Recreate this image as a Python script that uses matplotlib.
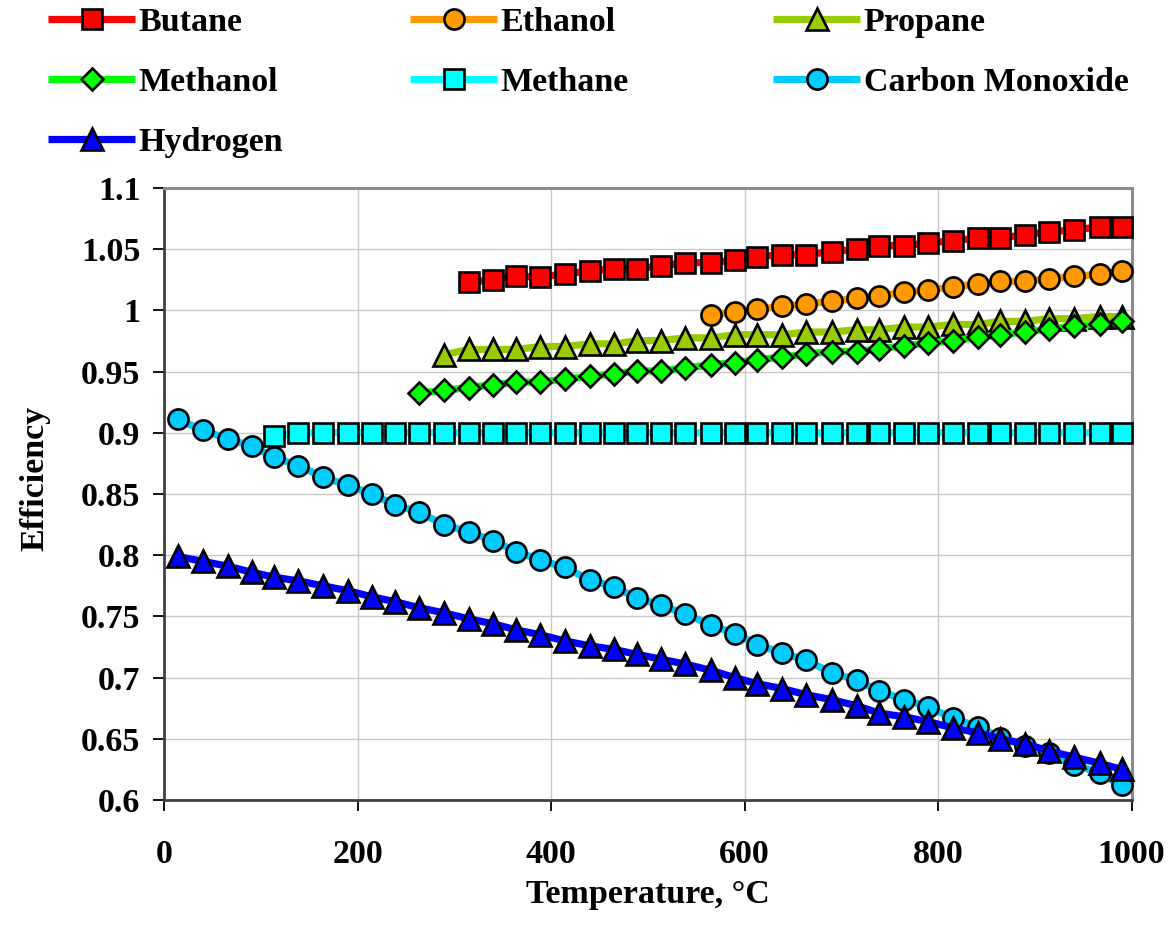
import matplotlib
matplotlib.use('Agg')
import matplotlib.pyplot as plt
from matplotlib.ticker import FuncFormatter

plt.rcParams['font.family'] = ['Liberation Serif', 'DejaVu Serif']
plt.rcParams['font.weight'] = 'bold'

# ---------------- data ----------------
temperature = [14, 40, 66, 91, 114, 139, 164, 190, 215, 239, 264, 289, 315, 340, 364,
               389, 414, 440, 465, 489, 514, 539, 565, 590, 613, 639, 664, 690, 716, 739,
               765, 790, 815, 841, 864, 890, 915, 941, 967, 990]

butane_T = temperature[12:]
butane = [1.023, 1.025, 1.028, 1.027, 1.030, 1.032, 1.034, 1.034, 1.0365, 1.039,
          1.039, 1.041, 1.044, 1.0455, 1.0455, 1.048, 1.050, 1.053, 1.053, 1.055,
          1.057, 1.059, 1.059, 1.062, 1.064, 1.066, 1.068, 1.068]

ethanol_T = temperature[22:]
ethanol = [0.9964, 0.9986, 1.0011, 1.0032, 1.0054, 1.0073, 1.0101, 1.0120, 1.0147,
           1.0169, 1.0191, 1.0215, 1.0237, 1.0237, 1.0259, 1.0277, 1.0297, 1.0324]

propane_T = temperature[11:]
propane = [0.9637, 0.9681, 0.9681, 0.9681, 0.9705, 0.9705, 0.9727, 0.9727, 0.9752,
           0.9754, 0.9776, 0.9776, 0.9801, 0.9801, 0.9801, 0.9823, 0.9823, 0.9842,
           0.9842, 0.9864, 0.9864, 0.9885, 0.9885, 0.9910, 0.9910, 0.9932, 0.9932,
           0.9950, 0.9950]

methanol_T = temperature[10:]
methanol = [0.9324, 0.9346, 0.9370, 0.9392, 0.9414, 0.9414, 0.9439, 0.9460, 0.9482,
            0.9505, 0.9505, 0.9529, 0.9556, 0.9574, 0.9597, 0.9619, 0.9643, 0.9664,
            0.9664, 0.9686, 0.9711, 0.9733, 0.9754, 0.9779, 0.9801, 0.9823, 0.9848,
            0.9870, 0.9891, 0.9910]

methane_T = temperature[4:]
methane = [0.897, 0.900, 0.900, 0.900, 0.900, 0.900, 0.900, 0.900, 0.900, 0.900,
           0.900, 0.900, 0.900, 0.900, 0.900, 0.900, 0.900, 0.900, 0.900, 0.900,
           0.900, 0.900, 0.900, 0.900, 0.900, 0.900, 0.900, 0.900, 0.900, 0.900,
           0.900, 0.900, 0.900, 0.900, 0.900, 0.900]

co_T = temperature
carbon_monoxide = [0.911, 0.902, 0.895, 0.889, 0.880, 0.873, 0.864, 0.857, 0.850, 0.841,
                   0.835, 0.825, 0.819, 0.812, 0.803, 0.796, 0.790, 0.780, 0.774, 0.765,
                   0.759, 0.752, 0.743, 0.736, 0.727, 0.720, 0.714, 0.704, 0.698, 0.689,
                   0.682, 0.676, 0.667, 0.660, 0.651, 0.644, 0.638, 0.629, 0.622, 0.612]

hydrogen_T = temperature
hydrogen = [0.799, 0.795, 0.791, 0.786, 0.782, 0.779, 0.775, 0.771, 0.766, 0.762,
            0.757, 0.753, 0.748, 0.744, 0.739, 0.735, 0.730, 0.726, 0.723, 0.719,
            0.715, 0.711, 0.706, 0.700, 0.695, 0.691, 0.686, 0.682, 0.677, 0.671,
            0.668, 0.664, 0.659, 0.655, 0.650, 0.646, 0.640, 0.635, 0.630, 0.625]

names = ['Butane', 'Ethanol', 'Propane', 'Methanol', 'Methane', 'Carbon Monoxide', 'Hydrogen']
x_ticks = [0, 200, 400, 600, 800, 1000]
y_ticks = [0.6, 0.65, 0.7, 0.75, 0.8, 0.85, 0.9, 0.95, 1.0, 1.05, 1.1]

# ---------------- styling ----------------
styles = {
    'Butane':          dict(color='#FF0000', marker='s', ms=14),
    'Ethanol':         dict(color='#FF9900', marker='o', ms=14.5),
    'Propane':         dict(color='#99CC00', marker='^', ms=16),
    'Methanol':        dict(color='#00FF00', marker='D', ms=11),
    'Methane':         dict(color='#00FFFF', marker='s', ms=14),
    'Carbon Monoxide': dict(color='#00CCFF', marker='o', ms=14.5),
    'Hydrogen':        dict(color='#0000FF', marker='^', ms=16),
}
data = {
    'Butane': (butane_T, butane),
    'Ethanol': (ethanol_T, ethanol),
    'Propane': (propane_T, propane),
    'Methanol': (methanol_T, methanol),
    'Methane': (methane_T, methane),
    'Carbon Monoxide': (co_T, carbon_monoxide),
    'Hydrogen': (hydrogen_T, hydrogen),
}

FS = 24.5
W, H = 1176, 926
fig = plt.figure(figsize=(W / 100, H / 100), dpi=100)
ax = fig.add_axes([164 / W, 1 - 800 / H, (1131.5 - 164) / W, 612 / H])

handles = {}
for i, name in enumerate(names):
    x, y = data[name]
    st = styles[name]
    ln, = ax.plot(x, y, color=st['color'], lw=5.2, marker=st['marker'], ms=st['ms'],
                  mfc=st['color'], mec='black', mew=1.9, clip_on=False,
                  solid_capstyle='butt', solid_joinstyle='round', label=name, zorder=3 + i)
    handles[name] = ln

ax.set_xlim(0, 1000)
ax.set_ylim(0.6, 1.1)
ax.set_xticks(x_ticks)
ax.set_yticks(y_ticks)
ax.yaxis.set_major_formatter(FuncFormatter(lambda v, p: f'{v:g}'))
ax.grid(True, color='#C8C8C8', lw=1.0)
ax.set_axisbelow(True)

for s in ['left', 'bottom']:
    ax.spines[s].set_color('#404040')
    ax.spines[s].set_linewidth(2.0)
for s in ['top', 'right']:
    ax.spines[s].set_color('#8C8C8C')
    ax.spines[s].set_linewidth(2.2)

ax.tick_params(axis='both', direction='out', length=8, width=1.3, color='black',
               labelsize=FS)
ax.tick_params(axis='x', pad=20)
ax.tick_params(axis='y', pad=9)
for lab in ax.get_xticklabels() + ax.get_yticklabels():
    lab.set_fontweight('bold')

ax.set_xlabel('Temperature, °C', fontsize=FS, fontweight='bold')
ax.xaxis.label.set_va('center')
ax.xaxis.set_label_coords(0.5, (800 - 895) / 612)
ax.set_ylabel('Efficiency', fontsize=FS, fontweight='bold')
ax.yaxis.label.set_va('center')
ax.yaxis.set_label_coords((35 - 164) / 967.5, (800 - 478) / 612)

# ---------------- legend (three columns) ----------------
columns = [(['Butane', 'Methanol', 'Hydrogen'], 48),
           (['Ethanol', 'Methane'], 410),
           (['Propane', 'Carbon Monoxide'], 773)]
for col_names, xpix in columns:
    fig.legend([handles[n] for n in col_names], col_names, loc='upper left',
               bbox_to_anchor=(xpix / W, 1 - 7 / H), frameon=False, numpoints=1,
               borderpad=0, borderaxespad=0, handlelength=2.56, handletextpad=0.1,
               labelspacing=0.85, prop=dict(family='Liberation Serif', weight='bold', size=FS))

fig.savefig('out.png', dpi=100)
